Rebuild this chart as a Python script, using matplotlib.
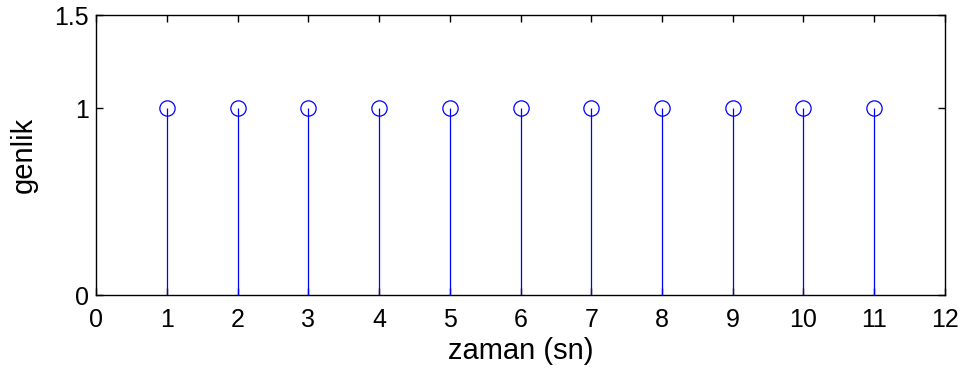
import matplotlib
matplotlib.use('Agg')
import matplotlib.pyplot as plt

plt.rcParams['font.family'] = ['Liberation Sans', 'DejaVu Sans']

t = [1, 2, 3, 4, 5, 6, 7, 8, 9, 10, 11]
genlik = [1, 1, 1, 1, 1, 1, 1, 1, 1, 1, 1]
xticks = list(range(0, 13))
yticks = [0, 1, 1.5]

fig = plt.figure(figsize=(9.63, 3.76), dpi=100)
ax = fig.add_axes([0.0997, 0.2154, 0.8816, 0.7446])

markerline, stemlines, baseline = ax.stem(t, genlik, basefmt=' ')
plt.setp(markerline, color='#0000ff', marker='o', markersize=11,
         markerfacecolor='none', markeredgewidth=0.9)
plt.setp(stemlines, color='#0000ff', linewidth=0.9)

ax.set_xlim(0, 12)
ax.set_ylim(0, 1.5)
ax.set_xticks(xticks)
ax.set_yticks(yticks)
ax.set_yticklabels(['0', '1', '1.5'])
ax.tick_params(direction='in', length=5, width=1, top=True, right=True,
               labelsize=18)
ax.tick_params(axis='x', pad=9)
ax.tick_params(axis='y', pad=5)
for s in ax.spines.values():
    s.set_linewidth(1)

ax.set_xlabel('zaman (sn)', fontsize=21, labelpad=4)
ax.set_ylabel('genlik', fontsize=21, labelpad=12)

fig.savefig('out.png', dpi=100)
